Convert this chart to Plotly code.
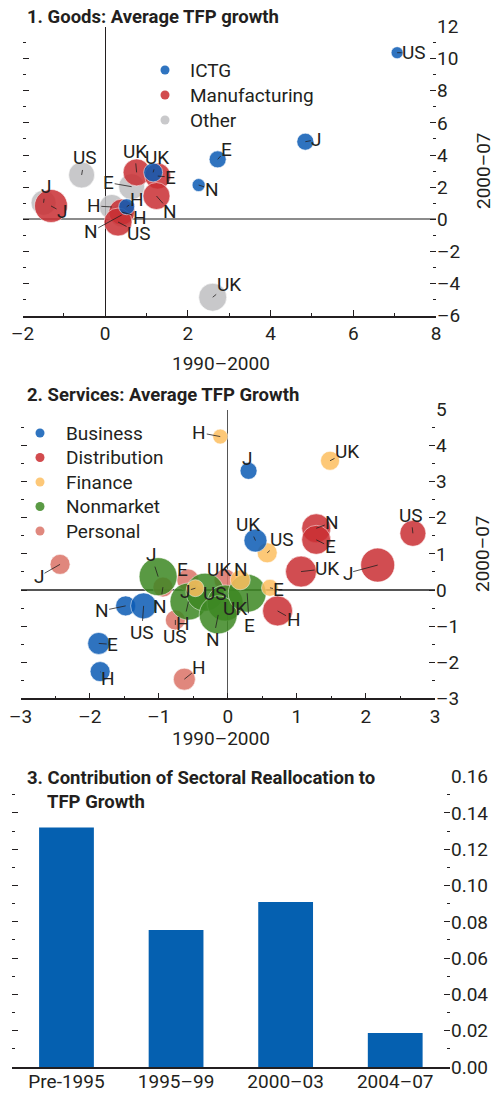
import plotly.graph_objects as go

W, H = 494, 1093
INK = "#231f20"
FONT = "Liberation Sans Narrow, Arial Narrow, Roboto, sans-serif"
FS = 19
TFS = 18.5

# ---------------- Panel 1: Goods (x: 1990-2000, y: 2000-07) ----------------
goods_sectors = ["ICTG", "Manufacturing", "Other"]

ictg_country = ["US", "J", "E", "N", "UK", "H"]
ictg_x = [7.06, 4.84, 2.72, 2.26, 1.16, 0.52]
ictg_y = [10.37, 4.83, 3.73, 2.13, 2.92, 0.78]
ictg_w = [1.2, 1.7, 1.7, 1.3, 1.9, 1.6]

manuf_country = ["J", "UK", "E", "N", "H", "US"]
manuf_x = [-1.31, 0.76, 1.27, 1.24, 0.40, 0.31]
manuf_y = [0.83, 2.92, 2.69, 1.45, 0.45, -0.17]
manuf_w = [3.3, 2.7, 2.6, 2.7, 2.6, 2.8]

other_country = ["US", "J", "E", "H", "N", "UK"]
other_x = [-0.57, -1.49, 0.64, 0.16, 0.40, 2.60]
other_y = [2.76, 1.03, 2.03, 0.77, 0.27, -4.85]
other_w = [2.6, 2.5, 2.6, 2.5, 2.4, 2.8]

goods_xticks = [-2, 0, 2, 4, 6, 8]
goods_xticklabels = ["–2", "0", "2", "4", "6", "8"]
goods_yticks = [-6, -4, -2, 0, 2, 4, 6, 8, 10, 12]
goods_yticklabels = ["–6", "–4", "–2", "0", "2", "4", "6", "8", "10", "12"]

# ---------------- Panel 2: Services ----------------
service_sectors = ["Business", "Distribution", "Finance", "Nonmarket", "Personal"]

bus_country = ["J", "UK", "N", "US", "E", "H"]
bus_x = [0.30, 0.40, -1.48, -1.22, -1.87, -1.85]
bus_y = [3.30, 1.37, -0.44, -0.44, -1.48, -2.26]
bus_w = [1.7, 2.3, 2.0, 2.6, 2.2, 2.0]

dist_country = ["N", "E", "US", "UK", "J", "H"]
dist_x = [1.28, 1.28, 2.68, 1.06, 2.17, 0.72]
dist_y = [1.71, 1.39, 1.57, 0.51, 0.69, -0.58]
dist_w = [2.9, 2.9, 2.6, 3.1, 3.4, 3.0]

fin_country = ["H", "UK", "US", "N", "E", "J"]
fin_x = [-0.11, 1.48, 0.57, 0.18, 0.61, -0.47]
fin_y = [4.25, 3.58, 1.03, 0.28, 0.06, 0.05]
fin_w = [1.5, 1.9, 2.0, 2.0, 1.7, 1.7]

nonm_country = ["J", "H", "US", "UK", "N", "E"]
nonm_x = [-1.01, -0.57, -0.33, -0.04, -0.14, 0.28]
nonm_y = [0.37, -0.32, -0.06, -0.36, -0.69, -0.09]
nonm_w = [3.8, 3.7, 3.8, 3.6, 3.8, 3.8]

pers_country = ["J", "H", "US", "E", "UK", "N"]
pers_x = [-2.43, -0.63, -0.76, -0.58, -0.04, -0.94]
pers_y = [0.71, -2.47, -0.83, 0.28, 0.28, 0.08]
pers_w = [2.0, 2.2, 2.0, 2.2, 2.2, 2.0]

serv_xticks = [-3, -2, -1, 0, 1, 2, 3]
serv_xticklabels = ["–3", "–2", "–1", "0", "1", "2", "3"]
serv_yticks = [-3, -2, -1, 0, 1, 2, 3, 4, 5]
serv_yticklabels = ["–3", "–2", "–1", "0", "1", "2", "3", "4", "5"]

# ---------------- Panel 3: Contribution of sectoral reallocation ----------------
realloc_periods = ["Pre-1995", "1995–99", "2000–03", "2004–07"]
realloc_values = [0.132, 0.0755, 0.091, 0.0187]
realloc_yticks = [0.0, 0.02, 0.04, 0.06, 0.08, 0.10, 0.12, 0.14, 0.16]
realloc_yticklabels = ["0.00", "0.02", "0.04", "0.06", "0.08", "0.10", "0.12", "0.14", "0.16"]

# ---------------- styling (not data) ----------------
COL = {
    "ICTG": "#0b5bb5", "Manufacturing": "#ca2f33", "Other": "#bfbfc1",
    "Business": "#0b5bb5", "Distribution": "#ca2f33", "Finance": "#fdbf60",
    "Nonmarket": "#3d8823", "Personal": "#db7367",
}
LEG_COL = {
    "ICTG": "#2f74c0", "Manufacturing": "#d24b4e", "Other": "#c9c9cb",
    "Business": "#2f74c0", "Distribution": "#d24b4e", "Finance": "#fdc878",
    "Nonmarket": "#5a9a44", "Personal": "#e0887e",
}
OPAC = 0.85
SIZEREF = 0.1

label_offsets = {
    ("ICTG", "US"): (17, 0), ("ICTG", "J"): (11, -2), ("ICTG", "E"): (9, -10),
    ("ICTG", "N"): (13, 4), ("ICTG", "UK"): (4, -15), ("ICTG", "H"): (10, -7),
    ("Manufacturing", "J"): (11, 6), ("Manufacturing", "UK"): (-2, -21),
    ("Manufacturing", "E"): (13, 1), ("Manufacturing", "N"): (14, 16),
    ("Manufacturing", "H"): (18, 5), ("Manufacturing", "US"): (21, 11),
    ("Other", "US"): (3, -17), ("Other", "J"): (2, -16), ("Other", "E"): (-23, -4),
    ("Other", "H"): (-18, -1), ("Other", "N"): (-31, 17), ("Other", "UK"): (16, -13),
    ("Business", "J"): (-2, -12), ("Business", "UK"): (-7, -16), ("Business", "N"): (-24, 5),
    ("Business", "US"): (-2, 27), ("Business", "E"): (14, 1), ("Business", "H"): (8, 7),
    ("Distribution", "N"): (16, -6), ("Distribution", "E"): (14, 7),
    ("Distribution", "US"): (-2, -18), ("Distribution", "UK"): (26, -3),
    ("Distribution", "J"): (-30, 8), ("Distribution", "H"): (16, 9),
    ("Finance", "H"): (-21, -4), ("Finance", "UK"): (17, -9), ("Finance", "US"): (15, -13),
    ("Finance", "N"): (1, -10), ("Finance", "E"): (9, 2), ("Finance", "J"): (-10, 3),
    ("Nonmarket", "J"): (-7, -22), ("Nonmarket", "H"): (-5, 22), ("Nonmarket", "US"): (10, 1),
    ("Nonmarket", "UK"): (10, 5), ("Nonmarket", "N"): (-5, 25), ("Nonmarket", "E"): (2, 32),
    ("Personal", "J"): (-21, 12), ("Personal", "H"): (15, -12), ("Personal", "US"): (0, 17),
    ("Personal", "E"): (-5, -10), ("Personal", "UK"): (-6, -10), ("Personal", "N"): (-3, 19),
}


def px_x(px):
    return px / W


def px_y(py):
    return 1 - py / H


fig = go.Figure()
annotations = []
shapes = []


def add_bubbles(name, countries, xs, ys, ws, xa, ya):
    fig.add_trace(go.Scatter(
        x=xs, y=ys, mode="markers", name=name, showlegend=False,
        xaxis=xa, yaxis=ya, hoverinfo="skip",
        marker=dict(size=ws, sizemode="diameter", sizeref=SIZEREF,
                    color=COL[name], opacity=OPAC,
                    line=dict(color="white", width=0.6)),
    ))
    for c, xv, yv in zip(countries, xs, ys):
        dx, dy = label_offsets[(name, c)]
        annotations.append(dict(
            x=xv, y=yv, xref=xa, yref=ya, text=c, showarrow=True,
            arrowhead=0, arrowwidth=0.8, arrowcolor=INK, ax=dx, ay=dy,
            standoff=0, borderpad=0,
            font=dict(family=FONT, size=FS, color=INK),
        ))


def add_legend(names, marker_x, text_x, top_y, step):
    for i, n in enumerate(names):
        yc = top_y + i * step
        r = 4.5
        shapes.append(dict(type="circle", xref="paper", yref="paper",
                           x0=px_x(marker_x - r), x1=px_x(marker_x + r),
                           y0=px_y(yc + r), y1=px_y(yc - r),
                           fillcolor=LEG_COL[n], line=dict(width=0)))
        annotations.append(dict(text=n, x=px_x(text_x), y=px_y(yc), xref="paper", yref="paper",
                                xanchor="left", yanchor="middle", showarrow=False,
                                font=dict(family=FONT, size=FS, color=INK)))


# Panel 1 traces (bottom to top)
add_bubbles("Other", other_country, other_x, other_y, other_w, "x", "y")
add_bubbles("Manufacturing", manuf_country, manuf_x, manuf_y, manuf_w, "x", "y")
add_bubbles("ICTG", ictg_country, ictg_x, ictg_y, ictg_w, "x", "y")
add_legend(goods_sectors, 165, 188, 70, 25)
fig.add_trace(go.Scatter(x=[None], y=[None], xaxis="x", yaxis="y2", showlegend=False, hoverinfo="skip"))

# Panel 2 traces
add_bubbles("Personal", pers_country, pers_x, pers_y, pers_w, "x2", "y3")
add_bubbles("Nonmarket", nonm_country, nonm_x, nonm_y, nonm_w, "x2", "y3")
add_bubbles("Distribution", dist_country, dist_x, dist_y, dist_w, "x2", "y3")
add_bubbles("Finance", fin_country, fin_x, fin_y, fin_w, "x2", "y3")
add_bubbles("Business", bus_country, bus_x, bus_y, bus_w, "x2", "y3")
add_legend(service_sectors, 40, 64, 433, 24.5)
fig.add_trace(go.Scatter(x=[None], y=[None], xaxis="x2", yaxis="y4", showlegend=False, hoverinfo="skip"))

# Panel 3 bars
fig.add_trace(go.Bar(
    x=realloc_periods, y=realloc_values, width=0.5, marker_color="#0560b0",
    marker_line_width=0, xaxis="x3", yaxis="y5", showlegend=False, hoverinfo="skip",
))
fig.add_trace(go.Scatter(x=[realloc_periods[0]], y=[None], xaxis="x3", yaxis="y6",
                         showlegend=False, hoverinfo="skip"))

tickfont = dict(family=FONT, size=FS, color=INK)


def xaxis(domain, rng, tv, tt, anchor, minor_dtick, zl_color, zl_width):
    return dict(
        domain=domain, range=rng, anchor=anchor, tickmode="array", tickvals=tv, ticktext=tt,
        ticks="inside", ticklen=6, tickwidth=1, tickcolor=INK,
        minor=dict(ticks="inside", ticklen=3, tickwidth=1, tickcolor=INK,
                   tickmode="linear", tick0=0, dtick=minor_dtick, showgrid=False),
        showline=True, linecolor=INK, linewidth=1.5, showgrid=False,
        zeroline=True, zerolinecolor=zl_color, zerolinewidth=zl_width,
        tickfont=tickfont, automargin=False, fixedrange=True,
    )


def yaxes(domain, rng, tv, tt, anchor, overlay, minor_dtick, zl_color, zl_width, zeroline=True):
    common = dict(range=rng, anchor=anchor, tickmode="array", tickvals=tv, ticktext=tt,
                  ticks="inside", ticklen=6, tickwidth=1, tickcolor=INK,
                  minor=dict(ticks="inside", ticklen=3, tickwidth=1, tickcolor=INK,
                             tickmode="linear", tick0=0, dtick=minor_dtick, showgrid=False),
                  showline=False, showgrid=False, tickfont=tickfont,
                  automargin=False, fixedrange=True)
    left = dict(common, domain=domain, showticklabels=False, zeroline=zeroline,
                zerolinecolor=zl_color, zerolinewidth=zl_width)
    right = dict(common, overlaying=overlay, side="right", showticklabels=True, zeroline=False)
    return left, right


P1x = [px_x(22.5), px_x(436)]
P1y = [px_y(315.7), px_y(26.5)]
P2x = [px_x(20.7), px_x(435)]
P2y = [px_y(698.3), px_y(409.5)]
P3x = [px_x(11.7), px_x(450)]
P3y = [px_y(1067), px_y(776.7)]

y1, y2 = yaxes(P1y, [-6, 12], goods_yticks, goods_yticklabels, "x", "y", 1, "#8c8c8c", 2)
y3, y4 = yaxes(P2y, [-3, 5], serv_yticks, serv_yticklabels, "x2", "y3", 0.5, "#555555", 1.5)
y5, y6 = yaxes(P3y, [0, 0.16], realloc_yticks, realloc_yticklabels, "x3", "y5", 0.01, INK, 1, zeroline=False)

x3 = dict(domain=P3x, anchor="y5", type="category", range=[-0.5, 3.5],
          showline=True, linecolor=INK, linewidth=1.5, ticks="", showgrid=False,
          zeroline=False, tickfont=tickfont, automargin=False, fixedrange=True,
          ticklabelstandoff=-4)


def text_ann(text, xpx, ypx, size=FS, bold=False, xanchor="left", angle=0):
    return dict(text=f"<b>{text}</b>" if bold else text, x=px_x(xpx), y=px_y(ypx),
                xref="paper", yref="paper", xanchor=xanchor, yanchor="middle",
                showarrow=False, textangle=angle,
                font=dict(family=FONT, size=size, color=INK))


annotations += [
    text_ann("1. Goods: Average TFP growth", 25, 17, size=TFS, bold=True),
    text_ann("1990–2000", 221, 363, xanchor="center"),
    text_ann("2000–07", 484, 171, xanchor="center", angle=-90),
    text_ann("2. Services: Average TFP Growth", 25, 395, size=TFS, bold=True),
    text_ann("1990–2000", 221, 738, xanchor="center"),
    text_ann("2000–07", 482, 554, xanchor="center", angle=-90),
    text_ann("3. Contribution of Sectoral Reallocation to", 25, 778, size=TFS, bold=True),
    text_ann("TFP Growth", 45, 802, size=TFS, bold=True),
]

fig.update_layout(
    width=W, height=H, margin=dict(l=0, r=0, t=0, b=0),
    paper_bgcolor="white", plot_bgcolor="white", showlegend=False,
    xaxis=xaxis(P1x, [-2, 8], goods_xticks, goods_xticklabels, "y", 1, INK, 1),
    yaxis=y1, yaxis2=y2,
    xaxis2=xaxis(P2x, [-3, 3], serv_xticks, serv_xticklabels, "y3", 0.5, "#555555", 1),
    yaxis3=y3, yaxis4=y4,
    xaxis3=x3, yaxis5=y5, yaxis6=y6,
    annotations=annotations, shapes=shapes,
)

fig.write_html("out.html", config={"displayModeBar": False},
               post_script="document.body.style.margin='0';document.body.style.overflow='hidden';")
